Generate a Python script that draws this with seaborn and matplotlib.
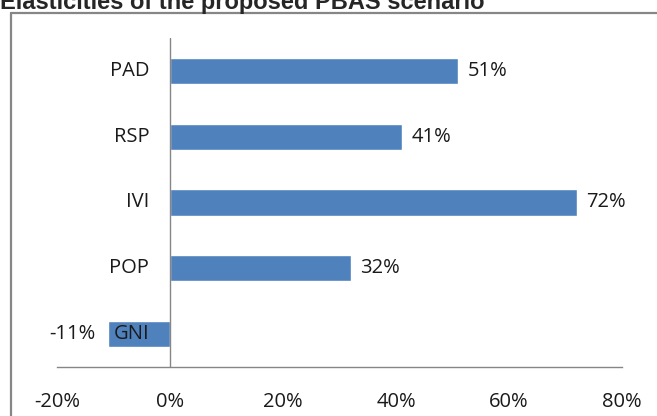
import numpy as np
import pandas as pd
import matplotlib.pyplot as plt
import seaborn as sns
from matplotlib.lines import Line2D
from matplotlib.ticker import FuncFormatter

# data
categories = ['PAD', 'RSP', 'IVI', 'POP', 'GNI']
elasticity = [0.51, 0.41, 0.72, 0.32, -0.11]
value_labels = ['51%', '41%', '72%', '32%', '-11%']
x_ticks = [-0.2, 0.0, 0.2, 0.4, 0.6, 0.8]

df = pd.DataFrame({'cat': categories, 'val': elasticity})

sns.set_style('white')
plt.rcParams['font.family'] = ['Open Sans', 'DejaVu Sans']

W, H = 657, 416
fig = plt.figure(figsize=(W / 100, H / 100), dpi=100)
ax = fig.add_axes([57 / W, 1 - 367 / H, (622 - 57) / W, (367 - 38) / H])

sns.barplot(data=df, x='val', y='cat', orient='h', color='#4F81BD',
            width=0.4, saturation=1, ax=ax)

ax.set_xlim(-0.2, 0.8)
ax.set_ylim(4.5, -0.5)
ax.set_xticks(x_ticks)
ax.xaxis.set_major_formatter(FuncFormatter(lambda v, p: f'{v * 100:.0f}%'))
ax.tick_params(axis='x', length=0, pad=18, labelsize=14.5, labelcolor='#1a1a1a')
ax.set_yticks([])
ax.set_xlabel('')
ax.set_ylabel('')

for s in ['top', 'right', 'left']:
    ax.spines[s].set_visible(False)
ax.spines['bottom'].set_color('#868686')
ax.spines['bottom'].set_linewidth(1)
ax.axvline(0, color='#868686', lw=1, zorder=3)

# category labels next to axis
for i, c in enumerate(categories):
    ax.annotate(c, (0, i), xytext=(-15, 0), textcoords='offset points',
                ha='right', va='center', fontsize=14.5, color='#1a1a1a', zorder=4)

# value labels
for i, (v, t) in enumerate(zip(elasticity, value_labels)):
    off = 7 if v >= 0 else -9
    ax.annotate(t, (v, i), xytext=(off, 0), textcoords='offset points',
                ha='left' if v >= 0 else 'right', va='center',
                fontsize=14.5, color='#1a1a1a')

# chart frame (cropped)
fig.add_artist(Line2D([11 / W, 11 / W], [0, 1 - 12.5 / H], transform=fig.transFigure,
                      color='#868686', lw=1.6))
fig.add_artist(Line2D([11 / W, 1], [1 - 12.5 / H, 1 - 12.5 / H], transform=fig.transFigure,
                      color='#868686', lw=1.6))

fig.text(0, 1 - 9.5 / H, 'Elasticities of the proposed PBAS scenario',
         family=['Liberation Sans', 'DejaVu Sans'], fontweight='bold',
         fontsize=17, va='baseline', ha='left')

fig.savefig('out.png', dpi=100)
